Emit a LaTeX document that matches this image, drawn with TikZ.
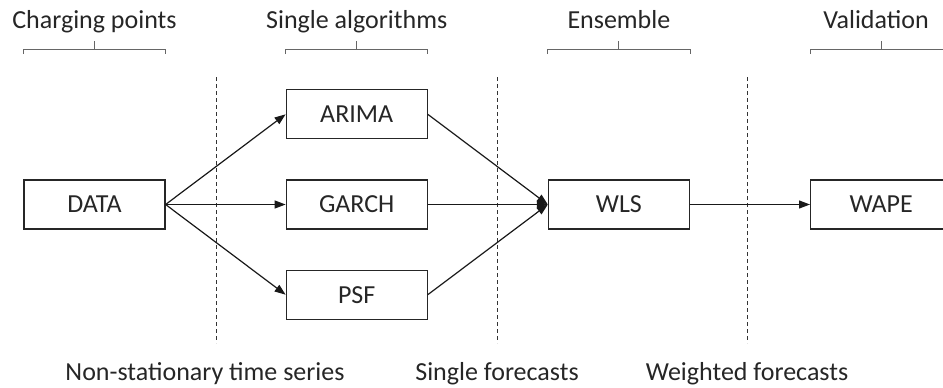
\documentclass[tikz,border=0pt]{standalone}
\usepackage{fontspec}
\setmainfont{Carlito}
\usetikzlibrary{arrows.meta,positioning}
\tikzset{
    stage-box/.style = {draw=black!85, line width=1.2pt, rectangle, minimum width=141pt, minimum height=49pt, inner sep=0pt, font=\fontsize{26}{30}\selectfont, text=black!85},
    stage-title/.style = {anchor=base, font=\fontsize{26}{30}\selectfont, text=black!85},
    flow-arrow/.style = {draw=black!90, line width=1.2pt, -{Triangle[length=11pt,width=8pt]}},
    split-line/.style = {draw=black!80, line width=0.8pt, dash pattern=on 4pt off 3pt},
    stage-brace/.style = {draw=black!60, line width=0.9pt},
}

\begin{document}
\begin{tikzpicture}[x=1pt,y=-1pt,node distance=120pt]
\useasboundingbox (0,0) rectangle (943,388);
% stages
\node[stage-box] (data) at (94.5,204.5) {DATA};
\node[stage-box, right=of data] (garch) {GARCH};
\node[stage-box, above=40pt of garch] (arima) {ARIMA};
\node[stage-box, below=40pt of garch] (psf) {PSF};
\node[stage-box, right=of garch] (wls) {WLS};
\node[stage-box, right=of wls] (wape) {WAPE};

% separators
\draw[split-line] (216,77) -- (216,343);
\draw[split-line] (497,77) -- (497,343);
\draw[split-line] (747,77) -- (747,343);

% titles and braces
\node[stage-title] (charging) at (data.north |- 0,28) {Charging points};
\node[stage-title] (single) at (garch.north |- 0,28) {Single algorithms};
\node[stage-title] (ensemble) at (wls.north |- 0,28) {Ensemble};
\node[stage-title] (validation) at (876,28) {Validation};
\foreach \b in {data,garch,wls,wape}
    \draw[stage-brace] (\b.west |- 0,54) -- (\b.west |- 0,49) -- (\b.east |- 0,49) -- (\b.east |- 0,54)
        (\b.north |- 0,49) -- (\b.north |- 0,41);

% what flows between stages
\node[stage-title] (series) at (205,380) {Non-stationary time series};
\node[stage-title] (forecasts) at (497,380) {Single forecasts};
\node[stage-title] (weighted) at (747,380) {Weighted forecasts};

% connections
\foreach \t in {arima,garch,psf}
    \draw[flow-arrow] (data.east) -- (\t.west);
\foreach \s in {arima,garch,psf}
    \draw[flow-arrow] (\s.east) -- (wls.west);
\draw[flow-arrow] (wls) -- (wape);
\end{tikzpicture}
\end{document}
